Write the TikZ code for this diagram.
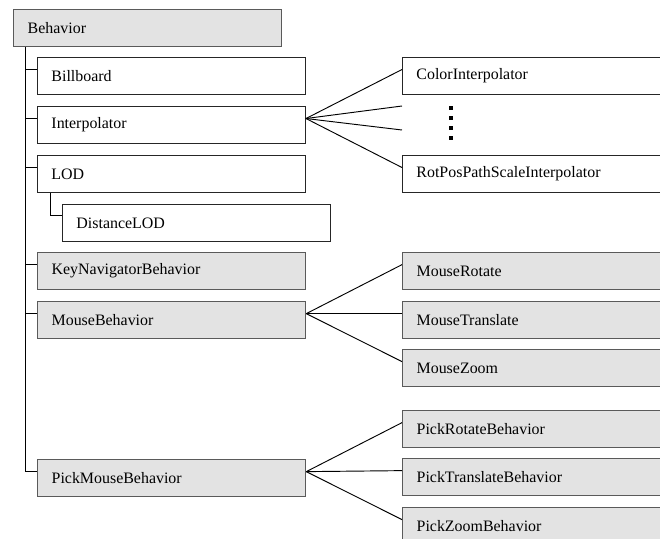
\documentclass[tikz,border=0pt]{standalone}
\usepackage{fontspec}
\setmainfont{Liberation Serif}
\usepackage{tikz}
\usetikzlibrary{calc}

\definecolor{boxgray}{HTML}{E3E3E3}
\definecolor{edgegray}{HTML}{5A5A5A}

\begin{document}
\begin{tikzpicture}[x=0.03cm,y=-0.03cm,
		cls/.style={draw=black!85,line width=0.8pt,anchor=north west,
			text width=7.2cm,align=left,inner xsep=0.42cm,
			minimum height=1.11cm,font=\fontsize{13.6}{16}\selectfont},
		util/.style={cls,draw=edgegray,line width=1.1pt,fill=boxgray},
		link/.style={line width=0.8pt,black}]
		\useasboundingbox (0,0) rectangle (660,539);
		\clip (0,0) rectangle (660,539);
		% left column
		\node[util] (beh) at (13,9) {Behavior};
		\node[cls] (bill) at (37,57) {Billboard};
		\node[cls] (interp) at (37,106) {Interpolator};
		\node[cls] (lod) at (37,155) {LOD};
		\node[cls] (dlod) at (62,204) {DistanceLOD};
		\node[util] (keynav) at (37,252) {KeyNavigatorBehavior};
		\node[util] (mouse) at (37,301) {MouseBehavior};
		\node[util] (pick) at (37,459) {PickMouseBehavior};
		% right column
		\node[cls] (colint) at (402,57) {ColorInterpolator};
		\node[cls] (rotpos) at (402,155) {RotPosPathScaleInterpolator};
		\node[util] (mrot) at (402,252) {MouseRotate};
		\node[util] (mtrans) at (402,301) {MouseTranslate};
		\node[util] (mzoom) at (402,349) {MouseZoom};
		\node[util] (prot) at (402,410) {PickRotateBehavior};
		\node[util] (ptrans) at (402,458) {PickTranslateBehavior};
		\node[util] (pzoom) at (402,507) {PickZoomBehavior};
		% tree
		\coordinate (trunk) at ([xshift=0.36cm]beh.south west);
		\foreach \c in {bill,interp,lod,keynav,mouse,pick}
			\draw[link] (trunk) |- ($(\c.north west)!.33!(\c.south west)$);
		\draw[link] ([xshift=0.39cm]lod.south west) |- ($(dlod.north west)!.3!(dlod.south west)$);
		% fans
		\coordinate (ifan) at ($(interp.north east)!.33!(interp.south east)$);
		\coordinate (mfan) at ($(mouse.north east)!.33!(mouse.south east)$);
		\coordinate (pfan) at ($(pick.north east)!.33!(pick.south east)$);
		\coordinate (gap1) at (402,106);
		\coordinate (gap2) at (402,130);
		\foreach \c in {colint,rotpos}
			\draw[link] (ifan) -- ($(\c.north west)!.33!(\c.south west)$);
		\draw[link] (ifan) -- (gap1);
		\draw[link] (ifan) -- (gap2);
		\foreach \c in {mrot,mtrans,mzoom}
			\draw[link] (mfan) -- ($(\c.north west)!.33!(\c.south west)$);
		\foreach \c in {prot,ptrans,pzoom}
			\draw[link] (pfan) -- ($(\c.north west)!.33!(\c.south west)$);
		% dots
		\foreach \y in {108,118,128,138}
			\fill (451,\y) ++(-2,-2) rectangle ++(4,4);
	\end{tikzpicture}
\end{document}
